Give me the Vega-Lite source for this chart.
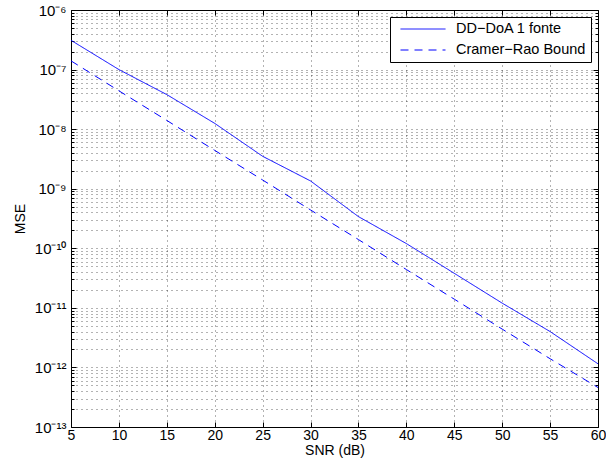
{
  "$schema": "https://vega.github.io/schema/vega-lite/v6.json",
  "width": 527,
  "height": 417,
  "autosize": "none",
  "padding": {"left": 71, "top": 10, "right": 8, "bottom": 43},
  "background": "white",
  "config": {
    "font": "Liberation Sans",
    "view": {"stroke": "black", "strokeWidth": 1}
  },
  "data": {
    "values": [
      {"snr": 5, "mse": 3.1e-7, "series": "DD−DoA 1 fonte"},
      {"snr": 10, "mse": 1.0e-7, "series": "DD−DoA 1 fonte"},
      {"snr": 15, "mse": 3.8e-8, "series": "DD−DoA 1 fonte"},
      {"snr": 20, "mse": 1.25e-8, "series": "DD−DoA 1 fonte"},
      {"snr": 25, "mse": 3.5e-9, "series": "DD−DoA 1 fonte"},
      {"snr": 30, "mse": 1.35e-9, "series": "DD−DoA 1 fonte"},
      {"snr": 35, "mse": 3.4e-10, "series": "DD−DoA 1 fonte"},
      {"snr": 40, "mse": 1.2e-10, "series": "DD−DoA 1 fonte"},
      {"snr": 45, "mse": 3.8e-11, "series": "DD−DoA 1 fonte"},
      {"snr": 50, "mse": 1.2e-11, "series": "DD−DoA 1 fonte"},
      {"snr": 55, "mse": 4.0e-12, "series": "DD−DoA 1 fonte"},
      {"snr": 60, "mse": 1.15e-12, "series": "DD−DoA 1 fonte"},
      {"snr": 5, "mse": 1.4e-7, "series": "Cramer−Rao Bound"},
      {"snr": 10, "mse": 4.4e-8, "series": "Cramer−Rao Bound"},
      {"snr": 15, "mse": 1.4e-8, "series": "Cramer−Rao Bound"},
      {"snr": 20, "mse": 4.4e-9, "series": "Cramer−Rao Bound"},
      {"snr": 25, "mse": 1.4e-9, "series": "Cramer−Rao Bound"},
      {"snr": 30, "mse": 4.4e-10, "series": "Cramer−Rao Bound"},
      {"snr": 35, "mse": 1.4e-10, "series": "Cramer−Rao Bound"},
      {"snr": 40, "mse": 4.4e-11, "series": "Cramer−Rao Bound"},
      {"snr": 45, "mse": 1.4e-11, "series": "Cramer−Rao Bound"},
      {"snr": 50, "mse": 4.4e-12, "series": "Cramer−Rao Bound"},
      {"snr": 55, "mse": 1.4e-12, "series": "Cramer−Rao Bound"},
      {"snr": 60, "mse": 4.6e-13, "series": "Cramer−Rao Bound"}
    ]
  },
  "layer": [
    {
      "mark": {"type": "line", "color": "#0000ff", "strokeWidth": 1, "clip": true},
      "encoding": {
        "x": {
          "field": "snr", "type": "quantitative",
          "scale": {"domain": [5, 60], "nice": false, "zero": false},
          "axis": {
            "title": "SNR (dB)",
            "values": [5, 10, 15, 20, 25, 30, 35, 40, 45, 50, 55, 60],
            "grid": true, "gridColor": "#000", "gridDash": [1, 4], "gridOpacity": 0.6, "gridWidth": 1,
            "domain": false,
            "tickSize": -5, "tickColor": "#000", "tickWidth": 1,
            "labelFontSize": 14, "labelColor": "#000", "labelPadding": 6, "labelFlush": false,
            "titleFontSize": 14, "titleFontWeight": "normal", "titleColor": "#000", "titlePadding": 1
          }
        },
        "y": {
          "field": "mse", "type": "quantitative",
          "scale": {"type": "log", "domain": [1e-13, 1e-6], "nice": false},
          "axis": {
            "title": "MSE",
            "values": [1e-13, 2e-13, 3e-13, 4e-13, 5e-13, 6e-13, 7e-13, 8e-13, 9e-13,
                       1e-12, 2e-12, 3e-12, 4e-12, 5e-12, 6e-12, 7e-12, 8e-12, 9e-12,
                       1e-11, 2e-11, 3e-11, 4e-11, 5e-11, 6e-11, 7e-11, 8e-11, 9e-11,
                       1e-10, 2e-10, 3e-10, 4e-10, 5e-10, 6e-10, 7e-10, 8e-10, 9e-10,
                       1e-9, 2e-9, 3e-9, 4e-9, 5e-9, 6e-9, 7e-9, 8e-9, 9e-9,
                       1e-8, 2e-8, 3e-8, 4e-8, 5e-8, 6e-8, 7e-8, 8e-8, 9e-8,
                       1e-7, 2e-7, 3e-7, 4e-7, 5e-7, 6e-7, 7e-7, 8e-7, 9e-7, 1e-6],
            "labelExpr": "abs(log(datum.value)/LN10 - round(log(datum.value)/LN10)) > 0.001 ? '' : ('10⁻' + ((-round(log(datum.value)/LN10)) >= 10 ? '¹' : '') + substring('⁰¹²³⁴⁵⁶⁷⁸⁹', (-round(log(datum.value)/LN10)) % 10, (-round(log(datum.value)/LN10)) % 10 + 1))",
            "grid": true, "gridColor": "#000", "gridDash": [1, 4], "gridOpacity": 0.6, "gridWidth": 1,
            "domain": false,
            "tickSize": {"condition": {"test": "abs(log(datum.value)/LN10 - round(log(datum.value)/LN10)) > 0.001", "value": -3}, "value": -5},
            "tickColor": "#000", "tickWidth": 1,
            "labelFontSize": 15, "labelColor": "#000", "labelPadding": 10, "labelFlush": false, "labelOverlap": false,
            "titleFontSize": 14, "titleFontWeight": "normal", "titleColor": "#000", "titlePadding": 7
          }
        },
        "strokeDash": {
          "field": "series", "type": "nominal",
          "scale": {"domain": ["DD−DoA 1 fonte", "Cramer−Rao Bound"], "range": [[1, 0], [8, 6]]},
          "legend": {
            "title": null,
            "orient": "top-right",
            "offset": 7,
            "strokeColor": "#000",
            "fillColor": "#fff",
            "padding": 5,
            "symbolType": "stroke",
            "symbolSize": 2025,
            "clipHeight": 14,
            "symbolStrokeColor": "#0000ff",
            "symbolStrokeWidth": 1,
            "symbolOffset": 5,
            "labelFontSize": 14.5,
            "labelColor": "#000",
            "labelOffset": 10,
            "rowPadding": 6
          }
        }
      }
    },
    {
      "mark": {"type": "line", "opacity": 0},
      "encoding": {
        "x": {
          "field": "snr", "type": "quantitative",
          "axis": {
            "orient": "top", "title": null, "labels": false, "grid": false, "domain": false,
            "values": [5, 10, 15, 20, 25, 30, 35, 40, 45, 50, 55, 60],
            "tickSize": -5, "tickColor": "#000"
          }
        },
        "y": {
          "field": "mse", "type": "quantitative",
          "axis": {
            "orient": "right", "title": null, "labels": false, "grid": false, "domain": false,
            "values": [1e-13, 2e-13, 3e-13, 4e-13, 5e-13, 6e-13, 7e-13, 8e-13, 9e-13,
                       1e-12, 2e-12, 3e-12, 4e-12, 5e-12, 6e-12, 7e-12, 8e-12, 9e-12,
                       1e-11, 2e-11, 3e-11, 4e-11, 5e-11, 6e-11, 7e-11, 8e-11, 9e-11,
                       1e-10, 2e-10, 3e-10, 4e-10, 5e-10, 6e-10, 7e-10, 8e-10, 9e-10,
                       1e-9, 2e-9, 3e-9, 4e-9, 5e-9, 6e-9, 7e-9, 8e-9, 9e-9,
                       1e-8, 2e-8, 3e-8, 4e-8, 5e-8, 6e-8, 7e-8, 8e-8, 9e-8,
                       1e-7, 2e-7, 3e-7, 4e-7, 5e-7, 6e-7, 7e-7, 8e-7, 9e-7, 1e-6],
            "tickSize": {"condition": {"test": "abs(log(datum.value)/LN10 - round(log(datum.value)/LN10)) > 0.001", "value": -3}, "value": -5},
            "tickColor": "#000"
          }
        },
        "detail": {"field": "series", "type": "nominal"}
      }
    }
  ],
  "resolve": {"axis": {"x": "independent", "y": "independent"}}
}
